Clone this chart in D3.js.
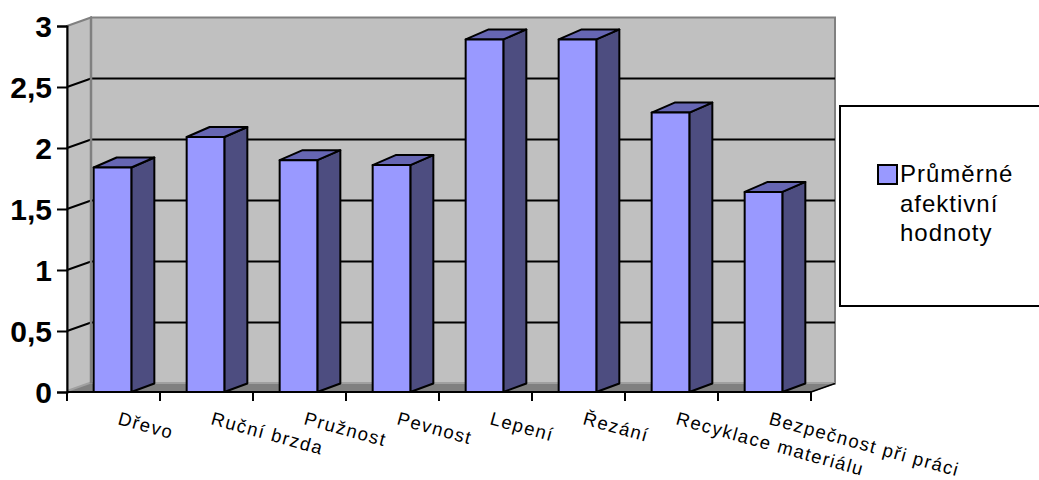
<!DOCTYPE html>
<html>
<head>
<meta charset="utf-8">
<script src="https://cdnjs.cloudflare.com/ajax/libs/d3/7.8.5/d3.min.js"></script>
<style>
  html, body { margin: 0; padding: 0; background: #fff; }
  svg { display: block; }
  text { font-family: "Liberation Sans", Arial, sans-serif; fill: #000; }
</style>
</head>
<body>
<svg id="chart" width="1039" height="480"></svg>
<script>
const categories = ["Dřevo", "Ruční brzda", "Pružnost", "Pevnost", "Lepení", "Řezání", "Recyklace materiálu", "Bezpečnost při práci"];
const afektivni = [1.84, 2.09, 1.9, 1.86, 2.89, 2.89, 2.29, 1.64];
const yTicks = [0, 0.5, 1, 1.5, 2, 2.5, 3];
const yTickLabels = ["0", "0,5", "1", "1,5", "2", "2,5", "3"];
const seriesName = ["Průměrné", "afektivní", "hodnoty"];

const svg = d3.select("#chart");

// Front plane of the 3D box and the oblique offset of its back wall
const x = d3.scaleBand().domain(categories).range([66, 810]).paddingInner(0.595).paddingOuter(0.2975);
const y = d3.scaleLinear().domain([0, 3]).range([392, 26]);
const depthX = 24, depthY = -8.5;
const barDepthX = 23, barDepthY = -10;

const poly = pts => pts.map(p => p.join(",")).join(" ");
const x0 = 67, x1 = 811;
const y0 = y(0), yTop = y(3);

// Walls
svg.append("polygon")
  .attr("points", poly([[x0 + depthX, yTop + depthY], [x1 + depthX, yTop + depthY], [x1 + depthX, y0 + depthY], [x0 + depthX, y0 + depthY]]))
  .attr("fill", "#c0c0c0").attr("stroke", "#808080").attr("stroke-width", 2);
svg.append("polygon")
  .attr("points", poly([[x0, yTop], [x0 + depthX, yTop + depthY], [x0 + depthX, y0 + depthY], [x0, y0]]))
  .attr("fill", "#c0c0c0").attr("stroke", "#808080").attr("stroke-width", 2);

// Floor, with a lighter lip where it meets the back wall
svg.append("polygon")
  .attr("points", poly([[x0, y0], [x0 + depthX, y0 + depthY], [x1 + depthX, y0 + depthY], [x1, y0]]))
  .attr("fill", "#808080").attr("stroke", "#808080").attr("stroke-width", 1);
svg.append("line")
  .attr("x1", x0 + depthX).attr("x2", x1 + depthX).attr("y1", y0 + depthY - 0.5).attr("y2", y0 + depthY - 0.5)
  .attr("stroke", "#a0a0a0").attr("stroke-width", 2);
svg.append("line")
  .attr("x1", x0).attr("x2", x0 + depthX).attr("y1", y0 - 1).attr("y2", y0 + depthY - 1)
  .attr("stroke", "#a0a0a0").attr("stroke-width", 2);

// Gridlines bent across side and back walls
const grid = svg.append("g");
yTicks.filter(t => t > 0 && t < 3).forEach(t => {
  grid.append("polyline")
    .attr("points", poly([[x0, y(t)], [x0 + depthX, y(t) + depthY], [x1 + depthX, y(t) + depthY]]))
    .attr("fill", "none").attr("stroke", "#000").attr("stroke-width", 2);
});
svg.append("line")
  .attr("x1", x0 + depthX).attr("x2", x0 + depthX).attr("y1", yTop + depthY).attr("y2", y0 + depthY)
  .attr("stroke", "#808080").attr("stroke-width", 2.5);

// Bars: side, top, then front face
const bars = svg.append("g").selectAll("g").data(categories).join("g");
const faceStyle = (sel, fill) => sel.attr("fill", fill).attr("stroke", "#000").attr("stroke-width", 2).attr("stroke-linejoin", "round");
bars.append("polygon").call(faceStyle, "#4d4d80")
  .attr("points", (c, i) => {
    const r = x(c) + x.bandwidth(), t = y(afektivni[i]);
    return poly([[r, t], [r + barDepthX, t + barDepthY], [r + barDepthX, y0 + depthY], [r, y0]]);
  });
bars.append("polygon").call(faceStyle, "#6666b3")
  .attr("points", (c, i) => {
    const l = x(c), r = l + x.bandwidth(), t = y(afektivni[i]);
    return poly([[l, t], [l + barDepthX, t + barDepthY], [r + barDepthX, t + barDepthY], [r, t]]);
  });
bars.append("rect").call(faceStyle, "#9999ff")
  .attr("x", c => x(c)).attr("width", x.bandwidth())
  .attr("y", (c, i) => y(afektivni[i])).attr("height", (c, i) => y0 - y(afektivni[i]));

// Value axis
const yAxis = d3.axisLeft(y).tickValues(yTicks).tickSize(10).tickPadding(5)
  .tickFormat((d, i) => yTickLabels[i]);
const gy = svg.append("g").attr("transform", `translate(${x0},0)`).call(yAxis);
gy.select(".domain").attr("stroke", "#000").attr("stroke-width", 2);
gy.selectAll(".tick line").attr("stroke", "#000").attr("stroke-width", 2);
gy.selectAll(".tick text").attr("font-size", 30).attr("font-weight", "bold")
  .attr("font-family", '"Liberation Sans", Arial, sans-serif').attr("fill", "#000").attr("dy", "0.36em");

// Category axis with slanted labels
const step = x.step();
const catTicks = d3.range(categories.length + 1).map(i => x0 + i * step);
svg.append("line").attr("x1", x0).attr("x2", x1).attr("y1", y0).attr("y2", y0).attr("stroke", "#000").attr("stroke-width", 2);
svg.append("g").selectAll("line").data(catTicks).join("line")
  .attr("x1", d => d).attr("x2", d => d).attr("y1", y0).attr("y2", y0 + 9)
  .attr("stroke", "#000").attr("stroke-width", 2);
svg.append("line").attr("x1", x1).attr("y1", y0).attr("x2", x1 + depthX).attr("y2", y0 + depthY).attr("stroke", "#000").attr("stroke-width", 1.5);
svg.append("g").selectAll("text").data(categories).join("text")
  .attr("font-size", 18.5).attr("letter-spacing", 1.45)
  .attr("transform", (c, i) => `translate(${x0 + i * step + 50},${y0 + 32}) rotate(15.5)`)
  .text(c => c);

// Legend
svg.append("rect").attr("x", 840).attr("y", 106).attr("width", 210).attr("height", 200)
  .attr("fill", "#fff").attr("stroke", "#000").attr("stroke-width", 2);
svg.append("rect").attr("x", 878).attr("y", 165).attr("width", 19).attr("height", 19)
  .attr("fill", "#9999ff").attr("stroke", "#000").attr("stroke-width", 2);
svg.append("g").selectAll("text").data(seriesName).join("text")
  .attr("x", 900).attr("y", (d, i) => 182 + i * 29.5)
  .attr("font-size", 24).attr("letter-spacing", 1).text(d => d);
</script>
</body>
</html>
